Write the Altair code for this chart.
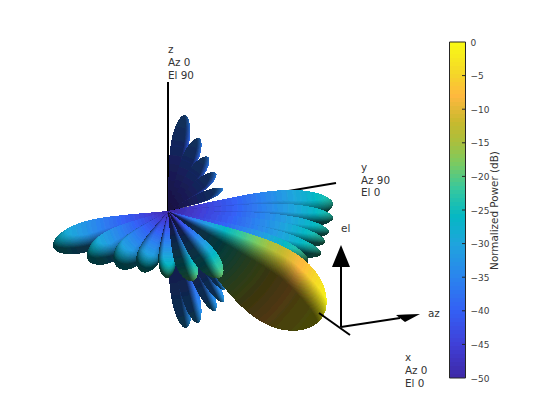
import altair as alt
import numpy as np
import pandas as pd

alt.data_transformers.disable_max_rows()

# Colour scale
bar_db = [-50, -45, -40, -35, -30, -26, -22, -18, -15, -12, -8, -5, 0]
bar_rgb = [(62, 40, 165), (64, 64, 216), (52, 96, 245), (43, 133, 238), (31, 165, 221),
           (5, 184, 196), (53, 200, 160), (124, 203, 96), (169, 192, 62), (200, 186, 46),
           (255, 184, 63), (245, 213, 42), (249, 251, 21)]
bar_ticks = [-50, -45, -40, -35, -30, -25, -20, -15, -10, -5, 0]

origin = (168, 211)
# Lobes, painted back to front: tip, half width, peak dB, light direction, ambient, diffuse
tip_x = [185, 199, 208, 216, 223, 225,
         333, 333, 329, 325, 321, 308,
         186, 198, 215, 223, 225,
         322,
         53, 88, 117, 142, 167, 193, 221]
tip_y = [115, 138, 157, 173, 189, 206,
         204, 218, 232, 242, 254, 262,
         328, 323, 311, 302, 290,
         318,
         247, 260, 267, 272, 278, 281, 277]
half_w = [9, 8, 7.5, 6.5, 5, 4,
          16, 12, 11, 11, 11, 13,
          10, 9, 8, 7, 6,
          38,
          15, 15, 15, 12, 9, 11, 12]
peak_db = [-35, -35, -35, -35, -34, -30,
           -23, -23, -23, -22, -22, -20,
           -32, -32, -32, -32, -32,
           0,
           -26, -25, -25, -24, -21, -19, -19]
ramp = [1.0] * 6 + [1.1] * 6 + [1.0] * 5 + [0.65] + [0.9] * 7
light_x = [1, 1, 1, 1, 1, 1,
           .2, .2, .2, .2, .2, .2,
           1, 1, 1, 1, 1,
           .72,
           0, 0, .1, .2, .2, .8, .8]
light_y = [0, 0, 0, 0, 0, 0,
           -.9, -.9, -.9, -.9, -.9, -.9,
           -.2, -.2, -.2, -.2, -.2,
           -.68,
           -.8, -.8, -.7, -.6, -.4, -.2, -.2]
light_z = [-.5, -.5, -.5, -.5, -.5, -.5,
           .4, .4, .4, .4, .4, .4,
           .1, .1, .1, .1, .1,
           -.25,
           .6, .6, .7, .7, .8, .2, .2]
ambient = [.38] * 6 + [.3] * 6 + [.32] * 5 + [.3] + [.3] * 7
diffuse = [.7] * 6 + [1.0] * 11 + [1.2] + [1.0] * 7

# Axes of the pattern and the az/el triad
line_x = [168, 168, 319, 341, 341]
line_y = [211, 211, 313, 327, 327]
line_x2 = [168, 336, 350, 341, 400]
line_y2 = [82, 183, 335, 262, 318]
line_top = [False, False, True, True, True]

head_el_x = [332, 341, 350]
head_el_y = [267, 245, 267]
head_el_y2 = [267, 267, 267]
head_az_x = [396, 405, 420]
head_az_y = [315, 314.6, 314]
head_az_y2 = [315, 322, 314]

label_text = ["z", "Az 0", "El 90", "y", "Az 90", "El 0", "x", "Az 0", "El 0", "el", "az"]
label_x = [168, 168, 168, 361, 361, 361, 405, 405, 405, 341, 428]
label_y = [50, 63, 76, 168, 181, 193, 358, 371, 384, 229, 314]


def cmap(db):
    return np.stack([np.interp(db, bar_db, [c[i] for c in bar_rgb]) for i in range(3)], axis=-1)


def hexcol(rgb):
    return "#%02x%02x%02x" % tuple(int(v) for v in rgb)


W, H = 560, 420
img = np.zeros((H, W, 3))
mask = np.zeros((H, W), bool)
yy, xx = np.mgrid[0:H, 0:W]
X, Y = xx + 0.5, yy + 0.5
for k in range(len(tip_x)):
    dx, dy = tip_x[k] - origin[0], tip_y[k] - origin[1]
    L = np.hypot(dx, dy)
    ax = np.array([dx, dy]) / L
    pr = np.array([-ax[1], ax[0]])
    rx, ry = X - origin[0], Y - origin[1]
    s = (rx * ax[0] + ry * ax[1]) / L
    p = rx * pr[0] + ry * pr[1]
    sc = np.clip(s, 1e-6, 1 - 1e-6)
    prof = half_w[k] * np.sin(np.pi * sc ** 2.0) ** 0.5
    inside = (s > 0) & (s < 1) & (np.abs(p) < prof)
    u = np.where(inside, p / np.maximum(prof, 1e-6), 0)
    t = np.clip((s - 0.7) / 0.3, 0, 1)
    perp_part = u * np.sqrt(np.clip(1 - t ** 2, 0, 1))
    nx = perp_part * pr[0] + t * ax[0]
    ny = perp_part * pr[1] + t * ax[1]
    nz = np.sqrt(np.clip(1 - nx ** 2 - ny ** 2, 0, 1))
    l = np.array([light_x[k], light_y[k], light_z[k]], float)
    l /= np.linalg.norm(l)
    d = np.clip(nx * l[0] + ny * l[1] + nz * l[2], 0, 1)
    shade = np.clip(ambient[k] + diffuse[k] * d, 0, 1)
    db = -50 + (peak_db[k] + 50) * np.clip(np.hypot(rx, ry) / L, 0, 1) ** ramp[k]
    col = cmap(db) * shade[..., None]
    img[inside] = col[inside]
    mask[inside] = True

# Group the surface into runs of equal colour along each row
step = 6
quant = (np.round(img / step) * step).clip(0, 255)
rows = []
for yi in range(H):
    xs_ = np.nonzero(mask[yi])[0]
    if len(xs_) == 0:
        continue
    start = prev = xs_[0]
    for xi in list(xs_[1:]) + [None]:
        if xi is not None and xi == prev + 1 and (quant[yi, xi] == quant[yi, start]).all():
            prev = xi
            continue
        rows.append({"x": int(start), "x2": int(prev) + 1, "y": yi, "y2": yi + 1,
                     "c": hexcol(quant[yi, start])})
        if xi is not None:
            start = prev = xi
surface = pd.DataFrame(rows)

xs = alt.Scale(domain=[8, 552], nice=False, zero=False)
ys = alt.Scale(domain=[412, 8], nice=False, zero=False)


def X_(f):
    return alt.X(f, type="quantitative", scale=xs, axis=None)


def Y_(f):
    return alt.Y(f, type="quantitative", scale=ys, axis=None)


surf = alt.Chart(surface).mark_rect(strokeWidth=0).encode(
    x=X_("x"), x2="x2", y=Y_("y"), y2="y2", color=alt.Color("c:N", scale=None))

lines = pd.DataFrame({"x": line_x, "y": line_y, "x2": line_x2, "y2": line_y2, "top": line_top})
back_lines = alt.Chart(lines[~lines.top]).mark_rule(color="black", strokeWidth=2).encode(
    x=X_("x"), y=Y_("y"), x2="x2", y2="y2")
front_lines = alt.Chart(lines[lines.top]).mark_rule(color="black", strokeWidth=2).encode(
    x=X_("x"), y=Y_("y"), x2="x2", y2="y2")

el_head = alt.Chart(pd.DataFrame({"x": head_el_x, "y": head_el_y, "y2": head_el_y2})).mark_area(
    color="black", interpolate="linear").encode(x=X_("x"), y=Y_("y"), y2="y2")
az_head = alt.Chart(pd.DataFrame({"x": head_az_x, "y": head_az_y, "y2": head_az_y2})).mark_area(
    color="black", interpolate="linear").encode(x=X_("x"), y=Y_("y"), y2="y2")

texts = alt.Chart(pd.DataFrame({"t": label_text, "x": label_x, "y": label_y})).mark_text(
    font="DejaVu Sans", fontSize=10.4, align="left", baseline="middle", color="#333333").encode(
    x=X_("x"), y=Y_("y"), text="t:N")

# Colour bar
n_levels = 84
levels = np.arange(n_levels) * 50 / n_levels - 50
bar = pd.DataFrame({"db": levels, "db2": levels + 50 / n_levels,
                    "c": [hexcol(cmap(v + 25 / n_levels)) for v in levels]})
bs = alt.Scale(domain=[-50, 0], range=[370, 34], nice=False, zero=False)
bar_rect = alt.Chart(bar).mark_rect(strokeWidth=0).encode(
    x=alt.value(442), x2=alt.value(457),
    y=alt.Y("db:Q", scale=bs, axis=alt.Axis(
        orient="right", offset=-87, values=bar_ticks, tickSize=0, domain=False, grid=False,
        labelFont="DejaVu Sans", labelFontSize=9, labelColor="#404040", labelPadding=5,
        format="d", title="Normalized Power (dB)", titleFont="DejaVu Sans", titleFontSize=10.4,
        titleFontWeight="normal", titleColor="#333333", titleAngle=270, titlePadding=11)),
    y2="db2:Q", color=alt.Color("c:N", scale=None))
bar_box = alt.Chart(pd.DataFrame({"a": [-50], "b": [0]})).mark_rect(
    fill=None, fillOpacity=0, stroke="#262626", strokeWidth=1).encode(
    x=alt.value(441.5), x2=alt.value(457.5),
    y=alt.Y("a:Q", scale=bs, axis=None), y2="b:Q")
bar_tick = alt.Chart(pd.DataFrame({"v": bar_ticks[1:-1]})).mark_rule(
    color="#262626", strokeWidth=1).encode(
    x=alt.value(454), x2=alt.value(457), y=alt.Y("v:Q", scale=bs, axis=None))

chart = alt.layer(
    back_lines, surf, front_lines, el_head, az_head, texts, bar_rect, bar_box, bar_tick
).resolve_scale(y="independent", x="shared").properties(
    width=544, height=404, padding=0, autosize=alt.AutoSizeParams(type="none"),
    background="white"
).configure_view(stroke=None)

chart.save("out.html", embed_options={"renderer": "svg", "actions": False})
